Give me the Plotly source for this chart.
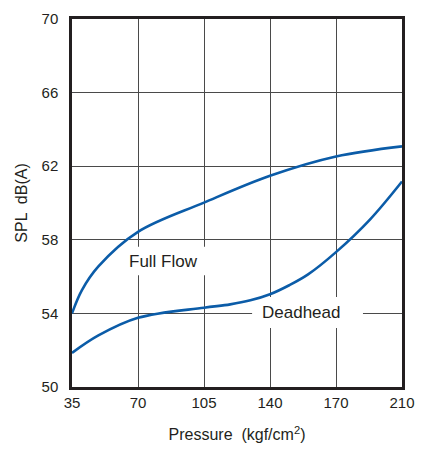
import plotly.graph_objects as go

# x positions on the evenly spaced pressure scale (tick "170" sits at the 175 slot)
tick_vals = [35, 70, 105, 140, 175, 210]
tick_text = ["35", "70", "105", "140", "170", "210"]
y_ticks = [50, 54, 58, 62, 66, 70]

full_flow_p = [35, 40.2, 49, 70, 105, 140, 175, 210]
full_flow_db = [54.0, 55.25, 56.55, 58.43, 60.02, 61.48, 62.53, 63.08]

deadhead_p = [35, 49, 70, 105, 118.9, 129.6, 140, 150.2, 160.2, 175, 193, 210]
deadhead_db = [51.85, 52.8, 53.76, 54.31, 54.49, 54.71, 55.04, 55.53, 56.12, 57.33, 59.1, 61.17]

blue = "#0b5ca8"
dark = "#231f20"
font_family = "Liberation Sans, Arial, sans-serif"

fig = go.Figure()
fig.add_trace(go.Scatter(x=full_flow_p, y=full_flow_db, mode="lines",
                         line=dict(color=blue, width=2.6, shape="spline", smoothing=1.0),
                         showlegend=False))
fig.add_trace(go.Scatter(x=deadhead_p, y=deadhead_db, mode="lines",
                         line=dict(color=blue, width=2.6, shape="spline", smoothing=1.0),
                         showlegend=False))

# white label backgrounds that mask the grid (drawn between grid and traces)
fig.add_shape(type="rect", x0=61.0, x1=106.9, y0=56.08, y1=57.62,
              fillcolor="white", line=dict(width=0), layer="between")
fig.add_shape(type="rect", x0=130.5, x1=189.3, y0=53.2, y1=54.89,
              fillcolor="white", line=dict(width=0), layer="between")

fig.add_annotation(x=83.3, y=56.84, text="Full Flow", showarrow=False,
                   font=dict(family=font_family, size=17, color=dark))
fig.add_annotation(x=156.4, y=54.07, text="Deadhead", showarrow=False,
                   font=dict(family=font_family, size=17, color=dark))

fig.update_xaxes(range=[35, 210], tickvals=tick_vals, ticktext=tick_text,
                 showgrid=True, gridcolor="#4a4a4a", gridwidth=1,
                 showline=True, linecolor=dark, linewidth=2.5, mirror=True,
                 ticks="", zeroline=False, automargin=False,
                 tickfont=dict(family=font_family, size=15, color=dark),
                 title=dict(text="Pressure  (kgf/cm<sup>2</sup>)", standoff=20,
                            font=dict(family=font_family, size=16, color=dark)))
fig.update_yaxes(range=[50, 70], tickvals=y_ticks,
                 showgrid=True, gridcolor="#4a4a4a", gridwidth=1,
                 showline=True, linecolor=dark, linewidth=2.5, mirror=True,
                 ticks="", zeroline=False, ticklabelstandoff=8, automargin=False,
                 tickfont=dict(family=font_family, size=15, color=dark),
                 title=dict(text="SPL  dB(A)", standoff=10,
                            font=dict(family=font_family, size=16, color=dark)))

fig.update_layout(width=436, height=449,
                  margin=dict(l=72, r=34, t=19, b=62),
                  paper_bgcolor="white", plot_bgcolor="white")

fig.write_html("out.html")
